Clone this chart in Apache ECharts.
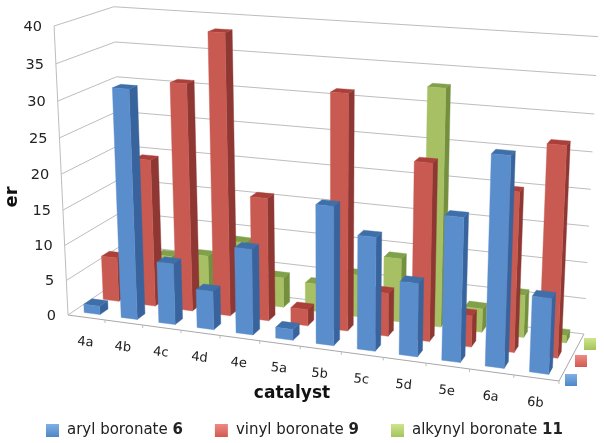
<!DOCTYPE html>
<html><head><meta charset="utf-8">
<script src="https://cdn.jsdelivr.net/npm/echarts@6/dist/echarts.min.js"></script>
<style>html,body{margin:0;padding:0;background:#fff}#c{width:604px;height:443px}</style>
</head><body><div id="c"></div>
<script>
const categories = ['4a','4b','4c','4d','4e','5a','5b','5c','5d','5e','6a','6b'];
const yTicks = [0,5,10,15,20,25,30,35,40];
const aryl6    = [1.2,32,8.6,5.4,11.9,1.5,18.9,15.4,9.9,19.2,27.6,10];
const vinyl9   = [6.4,21,32,39.2,17.3,2.3,32.4,6,24.2,4.3,21.5,28];
const alkynyl11= [4,5.5,6.2,8.8,4.3,4,6,9,32.8,3.3,5.9,1];

const W=604,H=443;
// perspective frame
const P0=[68,315],P1=[559,381],P2=[584,334],P3=[124,277];
const VP=[330,5750], TOP_Y=26;
const dx1=P1[0]-P2[0],dx2=P3[0]-P2[0],dx3=P0[0]-P1[0]+P2[0]-P3[0];
const dy1=P1[1]-P2[1],dy2=P3[1]-P2[1],dy3=P0[1]-P1[1]+P2[1]-P3[1];
const den=dx1*dy2-dx2*dy1;
const g=(dx3*dy2-dx2*dy3)/den,h=(dx1*dy3-dx3*dy1)/den;
const a=P1[0]-P0[0]+g*P1[0],b=P3[0]-P0[0]+h*P3[0],c=P0[0];
const d=P1[1]-P0[1]+g*P1[1],e=P3[1]-P0[1]+h*P3[1],f=P0[1];
const k=(TOP_Y-P0[1])/(VP[1]-TOP_Y);
function proj(u,v,z){
  const w=g*u+h*v+1+k*z;
  return [(a*u+b*v+c+k*z*VP[0])/w,(d*u+e*v+f+k*z*VP[1])/w];
}
const BAR_W=0.43, BAR_D=0.14;
const gridLine='#bdbdbd';
function quad(pts,color,z2){
  return {type:'polygon',shape:{points:pts},style:{fill:color,stroke:color,lineWidth:0.4},z2:z2||0,silent:true};
}
function barRenderer(row,cols){
  return function(params,api){
    const pt=api.coord([api.value(0),api.value(1)]);
    const u=pt[0]/W, z=(H-pt[1])/H;
    const bw=api.size([1,0])[0]/W*BAR_W;
    const v=(row+0.5)/3;
    const u0=u-bw/2,u1=u+bw/2,v0=v-BAR_D/2,v1=v+BAR_D/2;
    return {type:'group',children:[
      quad([proj(u1,v0,0),proj(u1,v1,0),proj(u1,v1,z),proj(u1,v0,z)],cols[1]),
      quad([proj(u0,v0,z),proj(u1,v0,z),proj(u1,v1,z),proj(u0,v1,z)],cols[2]),
      quad([proj(u0,v0,0),proj(u1,v0,0),proj(u1,v0,z),proj(u0,v0,z)],cols[0])
    ]};
  };
}
function line(p,q,color){return {type:'line',shape:{x1:p[0],y1:p[1],x2:q[0],y2:q[1]},style:{stroke:color||gridLine,lineWidth:1},silent:true};}
function tickRenderer(params,api){
  const pt=api.coord([0,api.value(0)]);
  const z=(H-pt[1])/H;
  const A=proj(0,0,z),B=proj(0,1,z),C=proj(1,1,z);
  return {type:'group',children:[
    line(A,B),line(B,C),
    {type:'text',style:{text:String(api.value(0)),x:A[0]-12,y:A[1]+1,align:'right',verticalAlign:'middle',font:'14.5px "DejaVu Sans"',fill:'#222'},silent:true}
  ]};
}
function catRenderer(params,api){
  const i=api.value(0);
  const pt=api.coord([i,0]);
  const bw=api.size([1,0])[0]/W;
  const u=pt[0]/W;
  const base=proj(u,0,0);
  const t0=proj(u+bw/2,0,0);
  return {type:'group',children:[
    line(t0,[t0[0],t0[1]+3]),
    {type:'text',x:base[0]-1,y:base[1]+25,rotation:-0.1,style:{text:categories[i],x:0,y:0,align:'center',verticalAlign:'middle',font:'13px "DejaVu Sans"',fill:'#222'},silent:true}
  ]};
}
function frameRenderer(){
  return {type:'group',children:[
    line(proj(0,0,0),proj(0,0,1)),
    line(P0,P1,'#a8a8a8'),line(P1,P2,'#a8a8a8')
  ]};
}
const grad=(c1,c2)=>new echarts.graphic.LinearGradient(0,0,0,1,[{offset:0,color:c1},{offset:1,color:c2}]);
const swatch=(x,y,c1,c2)=>({type:'rect',x:x,y:y,shape:{width:12,height:12},style:{fill:grad(c1,c2)},silent:true});

const blue=['#5a8dcc','#38639c','#3e6fa9'],red=['#c85a52','#8e3733','#ab403b'],green=['#a7c064','#74903f','#80a04a'];
const names=['aryl boronate 6','vinyl boronate 9','alkynyl boronate 11'];
const toData=arr=>arr.map((v,i)=>[i,v]);
const chart=echarts.init(document.getElementById('c'),null,{renderer:'canvas'});
chart.setOption({
  animation:false,
  backgroundColor:'#fff',
  grid:{left:0,top:0,width:W,height:H,containLabel:false},
  xAxis:{type:'category',data:categories,show:false},
  yAxis:{type:'value',min:0,max:40,interval:5,show:false},
  legend:{
    left:41,top:418,itemWidth:13,itemHeight:13,itemGap:32,icon:'rect',
    data:[
      {name:names[0],itemStyle:{color:grad('#7fb0e6','#4f86c6')}},
      {name:names[1],itemStyle:{color:grad('#ee8a84','#d05a52')}},
      {name:names[2],itemStyle:{color:grad('#cfe58e','#a3c45a')}}
    ],
    selectedMode:false,
    formatter:n=>{const p=n.split(' ');const l=p.pop();return '{n|'+p.join(' ')+' }{b|'+l+'}';},
    textStyle:{rich:{
      n:{fontFamily:'DejaVu Sans',fontSize:15,color:'#222',padding:[0,0,0,3]},
      b:{fontFamily:'DejaVu Sans',fontSize:15,fontWeight:'bold',color:'#222'}
    }}
  },
  graphic:[
    {type:'text',x:12,y:197,rotation:Math.PI/2,style:{text:'er',font:'bold 18px "DejaVu Sans"',align:'center',verticalAlign:'middle',fill:'#111'},silent:true},
    {type:'text',x:292,y:394,style:{text:'catalyst',font:'bold 17px "DejaVu Sans"',align:'center',verticalAlign:'middle',fill:'#111'},silent:true},
    swatch(565,374,'#7fb0e6','#4f86c6'),
    swatch(575,355,'#ee8a84','#d05a52'),
    swatch(584,338,'#cfe58e','#a3c45a')
  ],
  series:[
    {type:'custom',name:'walls',coordinateSystem:'cartesian2d',data:[[0,0]],renderItem:frameRenderer,z:1,silent:true},
    {type:'custom',name:'ticks',coordinateSystem:'cartesian2d',data:yTicks.map(v=>[v]),encode:{x:-1,y:0},renderItem:tickRenderer,z:1,silent:true},
    {type:'custom',name:'cats',coordinateSystem:'cartesian2d',data:categories.map((_,i)=>[i,0]),renderItem:catRenderer,z:1,silent:true},
    {type:'custom',name:names[2],coordinateSystem:'cartesian2d',data:toData(alkynyl11),renderItem:barRenderer(2,green),itemStyle:{color:green[0]},z:2,silent:true},
    {type:'custom',name:names[1],coordinateSystem:'cartesian2d',data:toData(vinyl9),renderItem:barRenderer(1,red),itemStyle:{color:red[0]},z:3,silent:true},
    {type:'custom',name:names[0],coordinateSystem:'cartesian2d',data:toData(aryl6),renderItem:barRenderer(0,blue),itemStyle:{color:blue[0]},z:4,silent:true}
  ]
});
</script></body></html>
